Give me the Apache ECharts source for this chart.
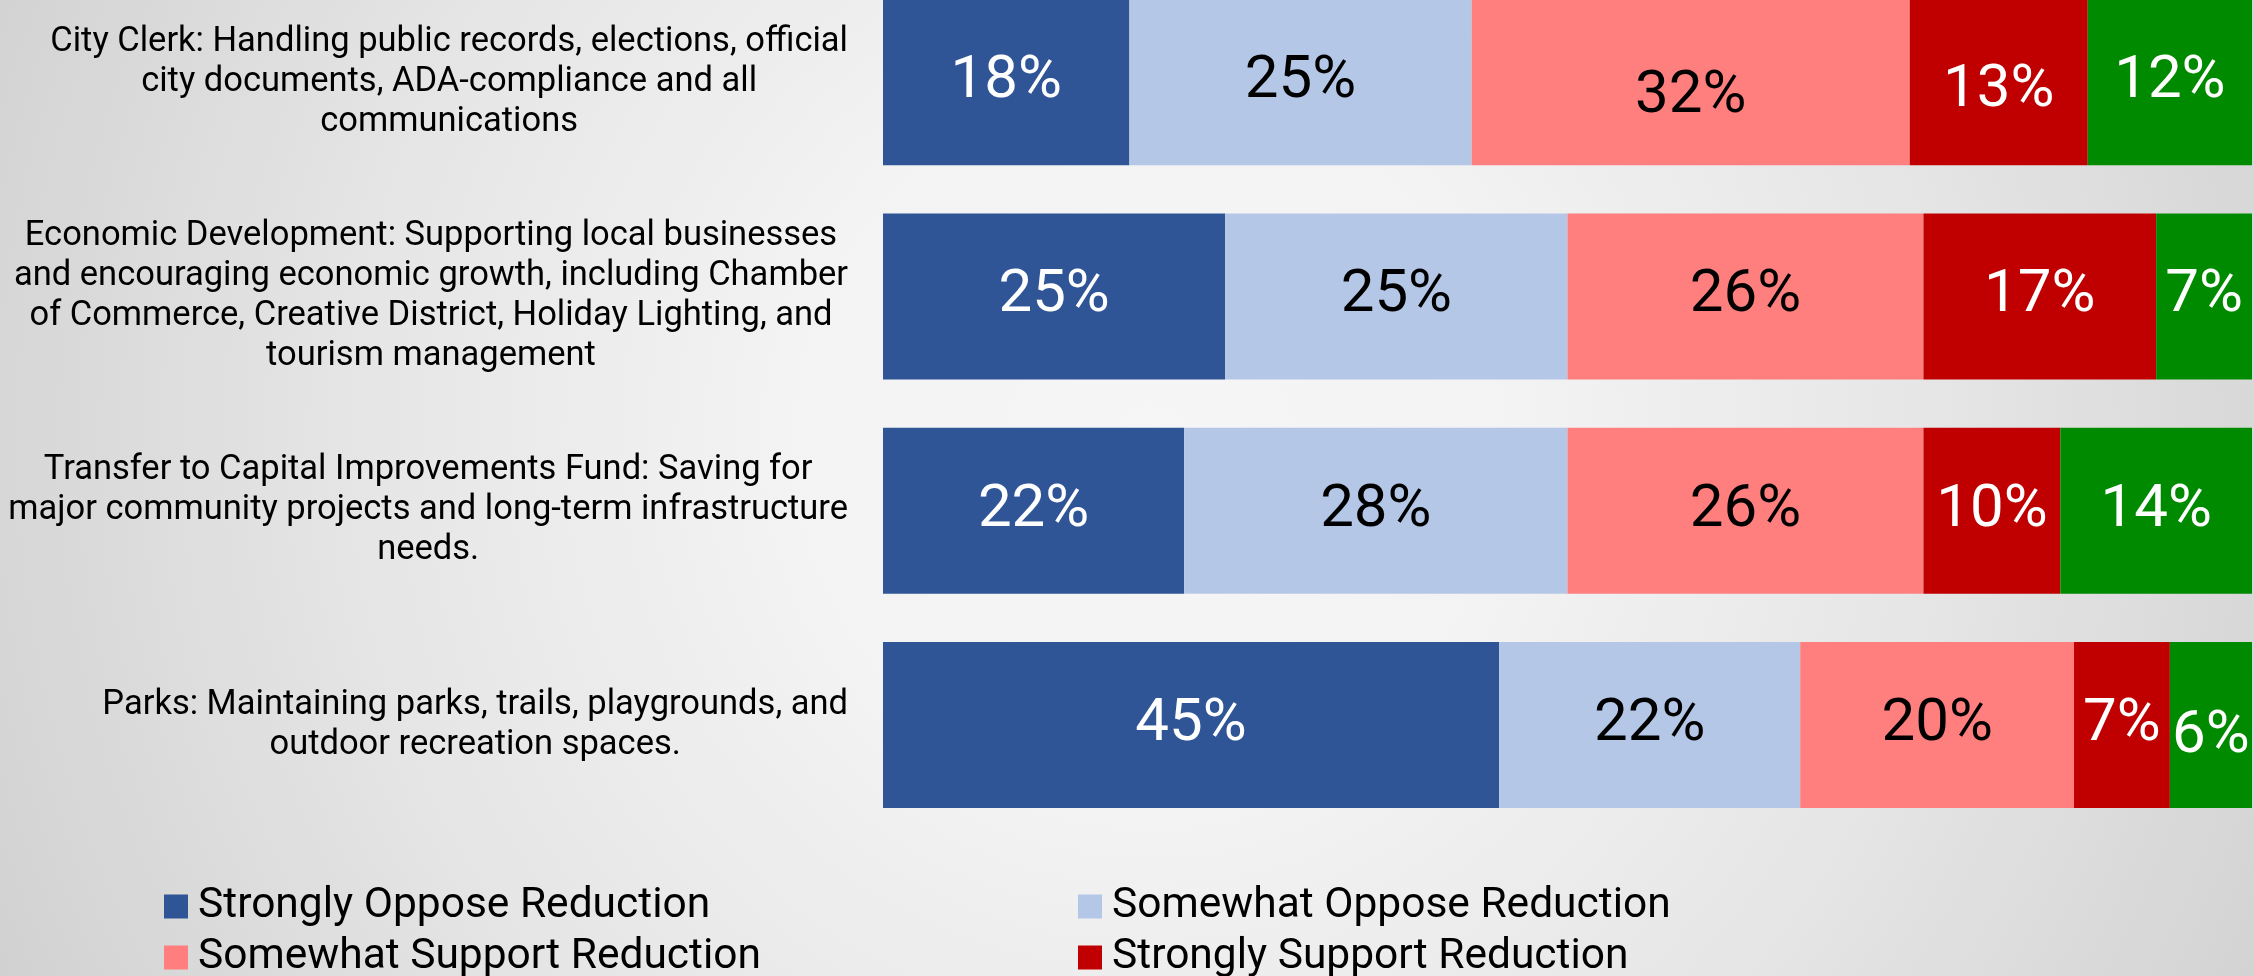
<!DOCTYPE html>
<html>
<head>
<meta charset="utf-8">
<title>Budget reduction preferences by service area</title>
<script src="https://cdn.jsdelivr.net/npm/echarts@6/dist/echarts.min.js"></script>
<style>
  html, body { margin: 0; padding: 0; width: 2254px; height: 976px; overflow: hidden; }
  body { position: relative; background: radial-gradient(circle 1300px at 1150px 440px, #f6f6f6 0%, #f3f3f3 28%, #e6e6e6 60%, #d0d0d0 100%); }
  /* the top bar runs flush with the top edge, so the drawing area starts a little above the page */
  #chart { position: absolute; left: 0; top: -25px; width: 2254px; height: 1001px; }
</style>
</head>
<body>
<div id="chart"></div>
<script>
// Service areas, top to bottom
const categories = [
  'City Clerk: Handling public records, elections, official\ncity documents, ADA-compliance and all\ncommunications',
  'Economic Development: Supporting local businesses\nand encouraging economic growth, including Chamber\nof Commerce, Creative District, Holiday Lighting, and\ntourism management',
  'Transfer to Capital Improvements Fund: Saving for\nmajor community projects and long-term infrastructure\nneeds.',
  'Parks: Maintaining parks, trails, playgrounds, and\noutdoor recreation spaces.'
];

// Share of respondents (%) per response, one value per service area
const stronglyOppose  = [18, 25, 22, 45];
const somewhatOppose  = [25, 25, 28, 22];
const somewhatSupport = [32, 26, 26, 20];
const stronglySupport = [13, 17, 10, 7];
const noOpinion       = [12, 7, 14, 6];

const seriesNames = [
  'Strongly Oppose Reduction',
  'Somewhat Oppose Reduction',
  'Somewhat Support Reduction',
  'Strongly Support Reduction',
  'No Opinion'
];
const seriesValues = [stronglyOppose, somewhatOppose, somewhatSupport, stronglySupport, noOpinion];
const seriesColors = ['#2F5597', '#B4C7E7', '#FF7F7F', '#C00000', '#008A00'];
const labelColors  = ['#FFFFFF', '#000000', '#000000', '#FFFFFF', '#FFFFFF'];

// A few value labels sit slightly lower inside their bars
const labelNudge = { '2-0': [0, 15], '3-0': [0, 9], '4-3': [0, 12] };

const FONT = 'Roboto, "Noto Sans", "Liberation Sans", sans-serif';

const series = seriesValues.map((vals, s) => ({
  name: seriesNames[s],
  type: 'bar',
  stack: 'total',
  barWidth: 166,
  itemStyle: { color: seriesColors[s] },
  emphasis: { disabled: true },
  label: {
    show: true,
    position: 'inside',
    formatter: '{c}%',
    color: labelColors[s],
    fontFamily: FONT,
    fontSize: 60
  },
  data: vals.map((v, i) => {
    const off = labelNudge[s + '-' + i];
    return off ? { value: v, label: { offset: off } } : v;
  })
}));

// Legend: two columns of two entries each
const legendSlots = [
  { name: seriesNames[0], left: 164,  top: 910 },
  { name: seriesNames[1], left: 1078, top: 910 },
  { name: seriesNames[2], left: 164,  top: 961 },
  { name: seriesNames[3], left: 1078, top: 961 }
];
const legends = legendSlots.map(slot => ({
  data: [slot.name],
  left: slot.left,
  top: slot.top,
  padding: 0,
  itemWidth: 24,
  itemHeight: 24,
  icon: 'rect',
  selectedMode: false,
  textStyle: { color: '#000000', fontFamily: FONT, fontSize: 42.5, lineHeight: 24, padding: [0, 0, 0, 5] }
}));

const chart = echarts.init(document.getElementById('chart'), null, { renderer: 'canvas' });

chart.setOption({
  backgroundColor: 'transparent',
  animation: false,
  grid: { left: 883, right: 2, top: 0, bottom: 144, containLabel: false },
  xAxis: {
    type: 'value', min: 0, max: 100,
    show: false
  },
  yAxis: {
    type: 'category',
    inverse: true,
    data: categories,
    axisLine: { show: false },
    axisTick: { show: false },
    splitLine: { show: false },
    axisLabel: {
      margin: 35,
      align: 'right',
      color: '#000000',
      fontFamily: FONT,
      fontSize: 34.5,
      lineHeight: 40,
      // each line centred within the label block
      formatter: (value) => value.split('\n').map(l => '{c|' + l + '}').join('\n'),
      rich: {
        c: { align: 'center', color: '#000000', fontFamily: FONT, fontSize: 34.5, lineHeight: 40 }
      }
    }
  },
  legend: legends,
  series: series
});
</script>
</body>
</html>
